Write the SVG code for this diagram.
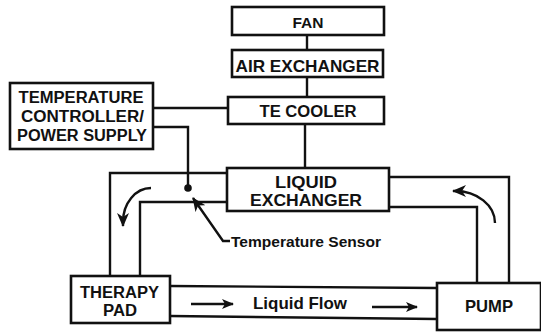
<svg xmlns="http://www.w3.org/2000/svg" width="541" height="333" viewBox="0 0 541 333">
<style>
.box{fill:#fff;stroke:#111;stroke-width:2.6}
.ln{fill:none;stroke:#111;stroke-width:2.4}
.t{font-family:"Liberation Sans",Arial,sans-serif;font-weight:bold;fill:#111;text-anchor:middle}
.s{font-family:"Liberation Sans",Arial,sans-serif;font-weight:bold;fill:#111}
</style>
<defs>
<marker id="ah" viewBox="0 0 12 10" refX="11" refY="5" markerWidth="12" markerHeight="10" markerUnits="userSpaceOnUse" orient="auto">
<path d="M0,0 L12,5 L0,10 L3,5 Z" fill="#111"/>
</marker>
<marker id="ahs" viewBox="0 0 14 12" refX="13" refY="6" markerWidth="14" markerHeight="12" markerUnits="userSpaceOnUse" orient="auto">
<path d="M0,0 L14,6 L0,12 L4,6 Z" fill="#111"/>
</marker>
</defs>
<g id="connectors">
<line class="ln" x1="307" y1="35" x2="307" y2="50"/>
<line class="ln" x1="307" y1="77" x2="307" y2="97"/>
<line class="ln" x1="305" y1="124" x2="305" y2="168"/>
<line class="ln" x1="153" y1="108" x2="228" y2="108"/>
<path class="ln" d="M153,127 L188,127 L188,188"/>
<circle cx="188" cy="188" r="3.8" fill="#111"/>
<path class="ln" d="M110,276 L110,173 L227,173"/>
<path class="ln" d="M140,276 L140,202 L227,202"/>
<path class="ln" d="M387,177 L509,177 L509,283"/>
<path class="ln" d="M387,207 L477,207 L477,283"/>
<line class="ln" x1="170" y1="286" x2="437" y2="288"/>
<line class="ln" x1="170" y1="316" x2="437" y2="319"/>
<path class="ln" d="M151,188 A28 34 0 0 0 123,222 L123,226" marker-end="url(#ahs)"/>
<path class="ln" d="M495,223 A40 32 0 0 0 455,191 L453,191" marker-end="url(#ahs)"/>
<line class="ln" x1="191" y1="304" x2="233" y2="304" marker-end="url(#ah)"/>
<line class="ln" x1="372" y1="307" x2="417" y2="307" marker-end="url(#ah)"/>
<path class="ln" d="M230,241 L223,241 L193,198" marker-end="url(#ahs)"/>
</g>
<g id="fan"><rect class="box" x="232" y="7" width="152" height="28"/><text class="t" x="308" y="28" font-size="15.5">FAN</text></g>
<g id="air-exchanger"><rect class="box" x="232" y="50" width="151" height="27"/><text class="t" x="307.5" y="72" font-size="16.5" textLength="144" lengthAdjust="spacingAndGlyphs">AIR EXCHANGER</text></g>
<g id="te-cooler"><rect class="box" x="228" y="97" width="156" height="27"/><text class="t" x="308" y="117" font-size="16" textLength="97" lengthAdjust="spacingAndGlyphs">TE COOLER</text></g>
<g id="controller"><rect class="box" x="10" y="83" width="143" height="66"/>
<text class="t" x="81" y="103" font-size="16" textLength="125" lengthAdjust="spacingAndGlyphs">TEMPERATURE</text>
<text class="t" x="82.5" y="122" font-size="16" textLength="123" lengthAdjust="spacingAndGlyphs">CONTROLLER/</text>
<text class="t" x="82" y="141" font-size="16" textLength="130" lengthAdjust="spacingAndGlyphs">POWER SUPPLY</text></g>
<g id="liquid-exchanger"><rect class="box" x="227" y="168" width="162" height="43"/>
<text class="t" x="306" y="188" font-size="16" textLength="62" lengthAdjust="spacingAndGlyphs">LIQUID</text>
<text class="t" x="306" y="206" font-size="16.5" textLength="112" lengthAdjust="spacingAndGlyphs">EXCHANGER</text></g>
<g id="therapy-pad"><rect class="box" x="71" y="276" width="99" height="47"/>
<text class="t" x="119.5" y="298" font-size="16" textLength="79" lengthAdjust="spacingAndGlyphs">THERAPY</text>
<text class="t" x="120" y="316" font-size="16" textLength="34" lengthAdjust="spacingAndGlyphs">PAD</text></g>
<g id="pump"><rect class="box" x="437" y="283" width="104" height="47"/>
<text class="t" x="489" y="312" font-size="17" textLength="48" lengthAdjust="spacingAndGlyphs">PUMP</text></g>
<text class="s" x="253" y="309" font-size="17" textLength="94" lengthAdjust="spacingAndGlyphs">Liquid Flow</text>
<text class="s" x="231" y="247" font-size="15" textLength="150" lengthAdjust="spacingAndGlyphs">Temperature Sensor</text>
</svg>
